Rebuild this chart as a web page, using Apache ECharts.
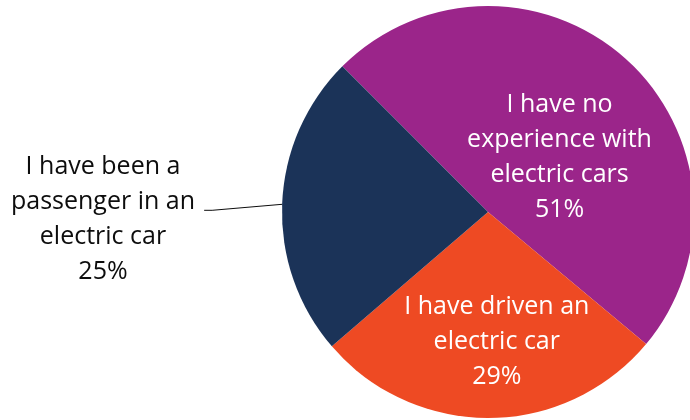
<!DOCTYPE html>
<html>
<head>
<meta charset="utf-8">
<script src="https://cdn.jsdelivr.net/npm/echarts@6/dist/echarts.min.js"></script>
<style>
  html, body { margin: 0; padding: 0; background: #fff; }
  #chart { width: 690px; height: 420px; }
</style>
</head>
<body>
<div id="chart"></div>
<script>
// Experience with electric cars (survey shares, %)
const categories = [
  'I have no\nexperience with\nelectric cars',
  'I have driven an\nelectric car',
  'I have been a\npassenger in an\nelectric car'
];
const shares = [51, 29, 25];
const colors = ['#9B258A', '#EE4A23', '#1B3358'];

const chart = echarts.init(document.getElementById('chart'), null, { renderer: 'canvas' });

const data = categories.map((name, i) => ({
  name: name,
  value: shares[i],
  itemStyle: { color: colors[i] },
  label: i === 2
    ? { position: 'outside', color: '#0D0D0D' }
    : { position: 'inside', color: '#FFFFFF' },
  labelLine: i === 2
    ? { show: true, length: 70, length2: 8, lineStyle: { color: '#0D0D0D', width: 1 } }
    : { show: false }
}));

// label nudges so the text blocks sit where the slices have room
const labelShift = [
  { dx: 0, dy: 24 },
  { dx: 8, dy: 24 },
  null
];

chart.setOption({
  animation: false,
  backgroundColor: '#ffffff',
  series: [{
    type: 'pie',
    center: [488, 212],
    radius: 206,
    startAngle: 135,
    clockwise: true,
    avoidLabelOverlap: false,
    data: data,
    itemStyle: { borderWidth: 0 },
    label: {
      show: true,
      fontFamily: 'Open Sans',
      fontSize: 25,
      lineHeight: 35,
      align: 'center',
      formatter: p => p.name + '\n' + p.value + '%'
    },
    labelLayout: function (params) {
      const s = labelShift[params.dataIndex];
      if (s) return { dx: s.dx, dy: s.dy };
      // outside label: centred text block, leader from the slice edge
      const pts = params.labelLinePoints;
      const edge = pts ? pts[0] : [282, 204];
      const knee = [edge[0] - 70, edge[1] + 6];
      const tip = [knee[0] - 8, knee[1]];
      return {
        x: 103, y: 219, align: 'center', verticalAlign: 'middle',
        labelLinePoints: [edge, knee, tip]
      };
    }
  }]
});
</script>
</body>
</html>
